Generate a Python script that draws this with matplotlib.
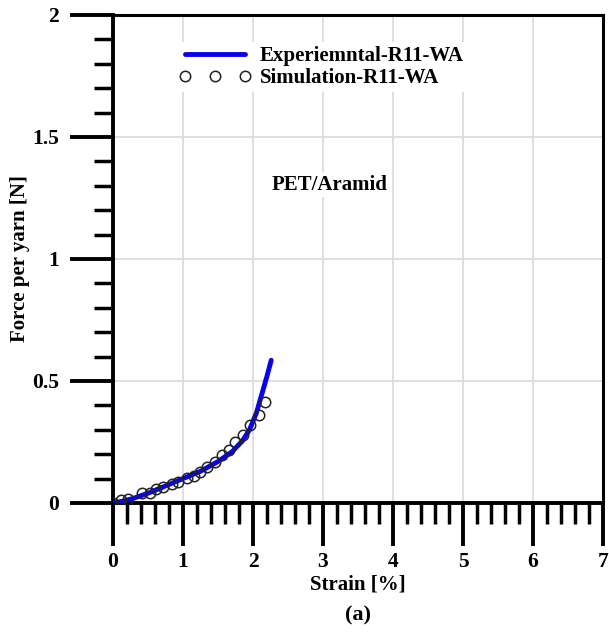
import matplotlib
matplotlib.use("Agg")
import matplotlib.pyplot as plt
from matplotlib.ticker import MultipleLocator

# Experimental curve
exp_strain = [0.0, 0.15, 0.3, 0.5, 0.75, 1.0, 1.25, 1.5, 1.7, 1.85, 1.95, 2.05, 2.14, 2.2, 2.26]
exp_force = [0.0, 0.008, 0.02, 0.04, 0.07, 0.1, 0.13, 0.17, 0.21, 0.255, 0.3, 0.37, 0.46, 0.52, 0.585]

# Simulation points
sim_strain = [0.0, 0.12, 0.22, 0.41, 0.53, 0.62, 0.72, 0.84, 0.93, 1.05, 1.15, 1.24, 1.34,
              1.46, 1.55, 1.65, 1.74, 1.86, 1.96, 2.08, 2.17]
sim_force = [0.0, 0.012, 0.016, 0.04, 0.04, 0.056, 0.067, 0.077, 0.087, 0.101, 0.111, 0.128,
             0.146, 0.169, 0.197, 0.217, 0.251, 0.279, 0.32, 0.361, 0.415]

xticks = [0, 1, 2, 3, 4, 5, 6, 7]
yticks = [0, 0.5, 1, 1.5, 2]
ytick_labels = ["0", "0.5", "1", "1.5", "2"]

plt.rcParams['font.family'] = ['Liberation Serif', 'DejaVu Serif']
plt.rcParams['font.weight'] = 'bold'

fig = plt.figure(figsize=(6.09, 6.34), dpi=100)
ax = fig.add_axes([113/609, 1-503/634, 490/609, 488/634])

ax.plot(exp_strain, exp_force, color='#0a00f0', lw=3.5, solid_capstyle='round',
        label='Experiemntal-R11-WA', zorder=3)
ax.plot(sim_strain, sim_force, ls='none', marker='o', ms=7.5, mfc='none', mec='#222222',
        mew=1.1, label='Simulation-R11-WA', zorder=4)

ax.set_xlim(0, 7)
ax.set_ylim(0, 2)
ax.set_xticks(xticks)
ax.set_yticks(yticks)
ax.set_yticklabels(ytick_labels)
ax.xaxis.set_minor_locator(MultipleLocator(0.2))
ax.yaxis.set_minor_locator(MultipleLocator(0.1))
ax.tick_params(which='major', direction='out', length=31, width=2.8, labelsize=15.5, pad=4)
ax.tick_params(which='minor', direction='out', length=15, width=2.5)
ax.tick_params(axis='y', which='minor', length=14)
ax.tick_params(axis='y', which='major', pad=8)
ax.tick_params(top=False, right=False)

ax.grid(True, which='major', color='#d9d9d9', lw=1.2)
ax.set_axisbelow(True)

for s in ['left', 'bottom']:
    ax.spines[s].set_linewidth(2.8)
for s in ['top', 'right']:
    ax.spines[s].set_linewidth(2.2)

ax.set_xlabel('Strain [%]', fontsize=15, fontweight='bold', labelpad=2)
ax.set_ylabel('Force per yarn [N]', fontsize=15, fontweight='bold', labelpad=1)

leg = ax.legend(loc='upper left', bbox_to_anchor=(0.125, 0.945), fontsize=15,
                handlelength=3.5, handletextpad=0.4, labelspacing=0.1, numpoints=3,
                frameon=True, borderpad=0.2, borderaxespad=0)
leg.get_frame().set_facecolor('white')
leg.get_frame().set_edgecolor('none')
leg.get_frame().set_alpha(1)
for t in leg.get_texts():
    t.set_fontweight('bold')

ax.text(3.1, 1.305, 'PET/Aramid', fontsize=15, fontweight='bold', ha='center', va='center',
        bbox=dict(facecolor='white', edgecolor='none', pad=2))

fig.text(358/609, 1-615/634, '(a)', fontsize=16, fontweight='bold', ha='center', va='center')

fig.savefig('out.png', dpi=100)
